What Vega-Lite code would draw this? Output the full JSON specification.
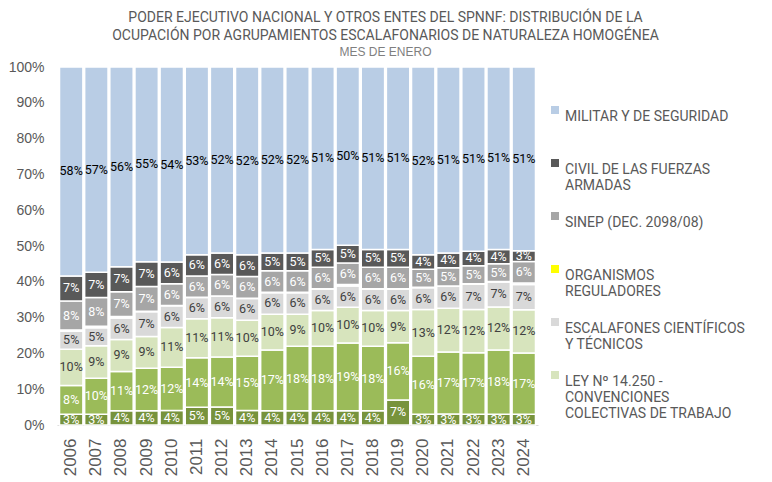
{
  "$schema": "https://vega.github.io/schema/vega-lite/v6.json",
  "width": 481,
  "height": 358,
  "padding": {"left": 8, "top": 11, "right": 0, "bottom": 0},
  "background": "white",
  "config": {"view": {"stroke": null}},
  "title": {
    "text": ["PODER EJECUTIVO NACIONAL Y OTROS ENTES DEL SPNNF: DISTRIBUCIÓN DE LA", "OCUPACIÓN POR AGRUPAMIENTOS ESCALAFONARIOS DE NATURALEZA HOMOGÉNEA"],
    "subtitle": "MES DE ENERO",
    "anchor": "middle",
    "dx": 88,
    "font": "Liberation Sans Narrow, Roboto",
    "fontSize": 14,
    "fontWeight": "normal",
    "color": "#595959",
    "lineHeight": 18,
    "subtitleFont": "Liberation Sans",
    "subtitleFontSize": 12,
    "subtitleColor": "#7F7F7F",
    "subtitlePadding": 4,
    "offset": 2
  },
  "data": {
    "values": [
      {"year": "2006", "noclasif": 3, "otros": 8, "ley": 10, "esc": 5, "org": 0.4, "sinep": 8, "civil": 7, "militar": 58},
      {"year": "2007", "noclasif": 3, "otros": 10, "ley": 9, "esc": 5, "org": 0.4, "sinep": 8, "civil": 7, "militar": 57},
      {"year": "2008", "noclasif": 4, "otros": 11, "ley": 9, "esc": 6, "org": 0.4, "sinep": 7, "civil": 7, "militar": 56},
      {"year": "2009", "noclasif": 4, "otros": 12, "ley": 9, "esc": 7, "org": 0.1, "sinep": 7, "civil": 7, "militar": 55},
      {"year": "2010", "noclasif": 4, "otros": 12, "ley": 11, "esc": 6, "org": 0.1, "sinep": 6, "civil": 6, "militar": 54},
      {"year": "2011", "noclasif": 5, "otros": 14, "ley": 11, "esc": 6, "org": 0.1, "sinep": 6, "civil": 6, "militar": 53},
      {"year": "2012", "noclasif": 5, "otros": 14, "ley": 11, "esc": 6, "org": 0.1, "sinep": 6, "civil": 6, "militar": 52},
      {"year": "2013", "noclasif": 4, "otros": 15, "ley": 10, "esc": 6, "org": 0.1, "sinep": 6, "civil": 6, "militar": 52},
      {"year": "2014", "noclasif": 4, "otros": 17, "ley": 10, "esc": 6, "org": 0.1, "sinep": 6, "civil": 5, "militar": 52},
      {"year": "2015", "noclasif": 4, "otros": 18, "ley": 9, "esc": 6, "org": 0.1, "sinep": 6, "civil": 5, "militar": 52},
      {"year": "2016", "noclasif": 4, "otros": 18, "ley": 10, "esc": 6, "org": 0.1, "sinep": 6, "civil": 5, "militar": 51},
      {"year": "2017", "noclasif": 4, "otros": 19, "ley": 10, "esc": 6, "org": 0.4, "sinep": 6, "civil": 5, "militar": 50},
      {"year": "2018", "noclasif": 4, "otros": 18, "ley": 10, "esc": 6, "org": 0.1, "sinep": 6, "civil": 5, "militar": 51},
      {"year": "2019", "noclasif": 7, "otros": 16, "ley": 9, "esc": 6, "org": 0.1, "sinep": 6, "civil": 5, "militar": 51},
      {"year": "2020", "noclasif": 3, "otros": 16, "ley": 13, "esc": 6, "org": 0.1, "sinep": 5, "civil": 4, "militar": 52},
      {"year": "2021", "noclasif": 3, "otros": 17, "ley": 12, "esc": 6, "org": 0.1, "sinep": 5, "civil": 4, "militar": 51},
      {"year": "2022", "noclasif": 3, "otros": 17, "ley": 12, "esc": 7, "org": 0.1, "sinep": 5, "civil": 4, "militar": 51},
      {"year": "2023", "noclasif": 3, "otros": 18, "ley": 12, "esc": 7, "org": 0.1, "sinep": 5, "civil": 4, "militar": 51},
      {"year": "2024", "noclasif": 3, "otros": 17, "ley": 12, "esc": 7, "org": 0.4, "sinep": 6, "civil": 3, "militar": 51}
    ]
  },
  "transform": [
    {"fold": ["noclasif", "otros", "ley", "esc", "org", "sinep", "civil", "militar"], "as": ["cat", "v"]},
    {"calculate": "indexof(['noclasif', 'otros', 'ley', 'esc', 'org', 'sinep', 'civil', 'militar'], datum.cat)", "as": "o"},
    {"stack": "v", "groupby": ["year"], "sort": [{"field": "o", "order": "ascending"}], "offset": "normalize", "as": ["y0", "y1"]},
    {"calculate": "(datum.y0 + datum.y1) / 2", "as": "ym"},
    {"calculate": "datum.v + '%'", "as": "lab"}
  ],
  "encoding": {
    "x": {
      "field": "year",
      "type": "ordinal",
      "scale": {"paddingInner": 0.07, "paddingOuter": 0.1},
      "axis": {
        "title": null,
        "labelAngle": -90,
        "labelFont": "Liberation Sans",
        "labelFontSize": 17,
        "labelColor": "#595959",
        "labelPadding": 13,
        "ticks": false,
        "domainColor": "#D9D9D9",
        "domainWidth": 1
      }
    }
  },
  "layer": [
    {
      "mark": {"type": "bar", "stroke": "white", "strokeWidth": 1.5},
      "encoding": {
        "y": {
          "field": "y0",
          "type": "quantitative",
          "scale": {"domain": [0, 1]},
          "axis": {
            "title": null,
            "format": ".0%",
            "values": [0, 0.1, 0.2, 0.3, 0.4, 0.5, 0.6, 0.7, 0.8, 0.9, 1],
            "labelOverlap": false,
            "labelSeparation": 0,
            "labelFont": "Liberation Sans",
            "labelFontSize": 14,
            "labelColor": "#595959",
            "labelPadding": 13,
            "grid": false,
            "ticks": false,
            "domain": false
          }
        },
        "y2": {"field": "y1"},
        "color": {
          "field": "cat",
          "type": "nominal",
          "scale": {
            "domain": ["noclasif", "otros", "ley", "esc", "org", "sinep", "civil", "militar"],
            "range": ["#77933C", "#9BBB59", "#D7E4BD", "#D9D9D9", "#FFFF00", "#A6A6A6", "#595959", "#B9CDE5"]
          },
          "legend": {
            "orient": "none",
            "legendX": 491,
            "legendY": 36,
            "title": null,
            "values": ["militar", "civil", "sinep", "org", "esc", "ley"],
            "symbolType": "square",
            "symbolSize": 64,
            "symbolStrokeWidth": 0,
            "labelFont": "Roboto",
            "labelFontSize": 14,
            "labelColor": "#595959",
            "labelBaseline": "top",
            "labelOffset": 3,
            "labelLimit": 300,
            "gridAlign": "all",
            "rowPadding": 0,
            "labelExpr": "datum.label == 'militar' ? 'MILITAR Y DE SEGURIDAD' : datum.label == 'civil' ? ['CIVIL DE LAS FUERZAS', 'ARMADAS'] : datum.label == 'sinep' ? 'SINEP (DEC. 2098/08)' : datum.label == 'org' ? ['ORGANISMOS', 'REGULADORES'] : datum.label == 'esc' ? ['ESCALAFONES CIENTÍFICOS', 'Y TÉCNICOS'] : ['LEY Nº 14.250 -', 'CONVENCIONES', 'COLECTIVAS DE TRABAJO']",
            "encode": {"labels": {"update": {"lineHeight": {"value": 18}, "dy": {"value": -8}}}}
          }
        }
      }
    },
    {
      "transform": [{"filter": "datum.v >= 1"}],
      "mark": {"type": "text", "font": "Roboto", "fontSize": 12.5},
      "encoding": {
        "y": {
          "field": "ym",
          "type": "quantitative",
          "axis": {
            "title": null,
            "format": ".0%",
            "values": [0, 0.1, 0.2, 0.3, 0.4, 0.5, 0.6, 0.7, 0.8, 0.9, 1],
            "labelOverlap": false,
            "labelSeparation": 0,
            "labelFont": "Liberation Sans",
            "labelFontSize": 14,
            "labelColor": "#595959",
            "labelPadding": 13,
            "grid": false,
            "ticks": false,
            "domain": false
          }
        },
        "text": {"field": "lab"},
        "color": {
          "condition": [
            {"test": "datum.cat == 'militar'", "value": "#000000"},
            {"test": "datum.cat == 'esc' || datum.cat == 'ley'", "value": "#404040"}
          ],
          "value": "#FFFFFF"
        }
      }
    }
  ]
}
